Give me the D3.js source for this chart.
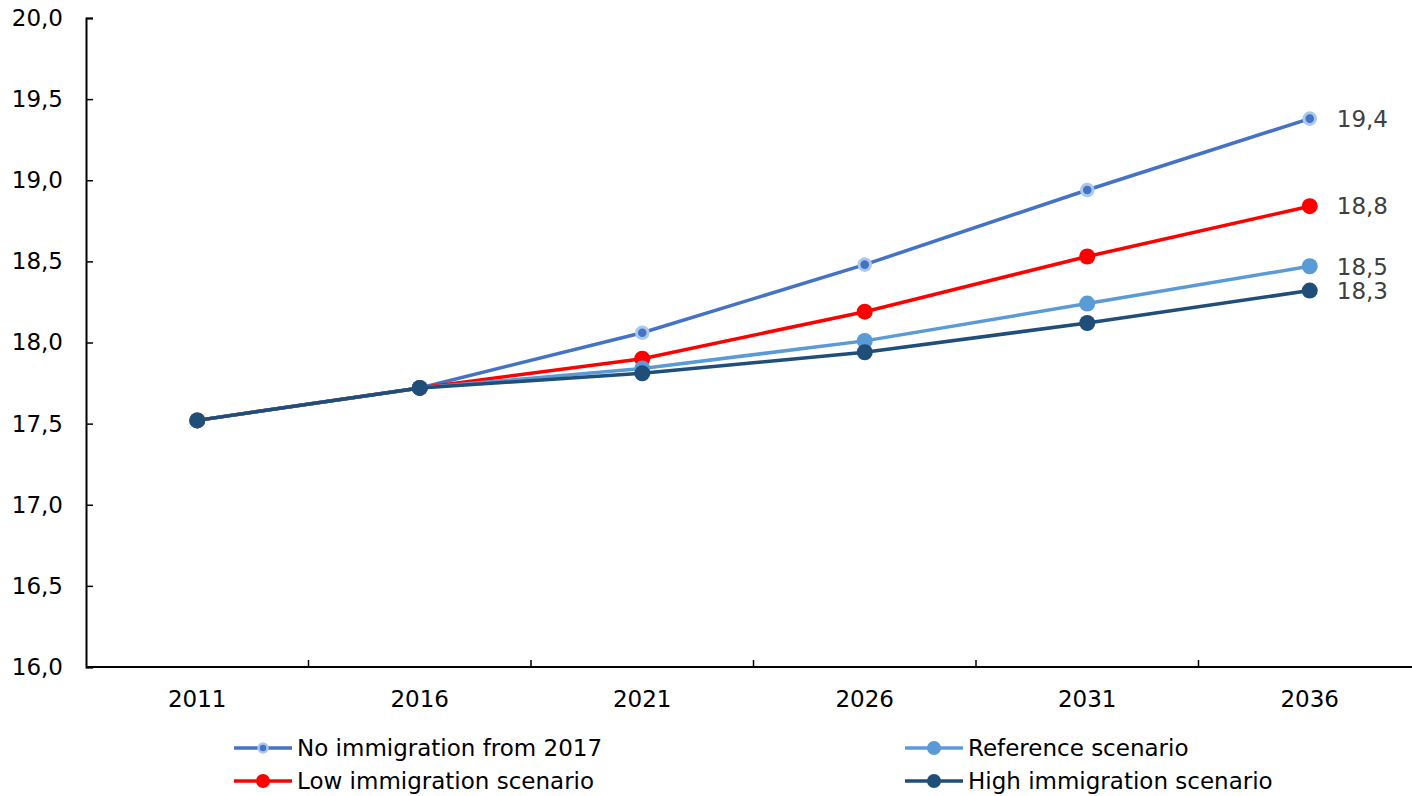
<!DOCTYPE html>
<html>
<head>
<meta charset="utf-8">
<script src="https://cdn.jsdelivr.net/npm/d3@7"></script>
<style>
  html, body { margin: 0; padding: 0; background: #fff; }
  svg { display: block; font-family: "DejaVu Sans", Verdana, sans-serif; }
</style>
</head>
<body>
<svg id="chart" width="1412" height="796"></svg>
<script>
// Projected values per scenario, 2011–2036
const years = ["2011", "2016", "2021", "2026", "2031", "2036"];
const noImmigration = [17.52, 17.72, 18.06, 18.48, 18.94, 19.38];
const lowImmigration = [17.52, 17.72, 17.90, 18.19, 18.53, 18.84];
const referenceScenario = [17.52, 17.72, 17.84, 18.01, 18.24, 18.47];
const highImmigration = [17.52, 17.72, 17.81, 17.94, 18.12, 18.32];
const yTicks = [16, 16.5, 17, 17.5, 18, 18.5, 19, 19.5, 20];

const series = [
  { name: "No immigration from 2017", values: noImmigration, color: "#4472C4", halo: "#A9C8EC", r: 5.8 },
  { name: "Low immigration scenario", values: lowImmigration, color: "#FF0000", r: 8 },
  { name: "Reference scenario", values: referenceScenario, color: "#5B9BD5", r: 8 },
  { name: "High immigration scenario", values: highImmigration, color: "#1F4E79", r: 8 }
];

const fmt = v => d3.format(".1f")(v).replace(".", ",");
const fontSize = 23;

const svg = d3.select("#chart");
const plotLeft = 86, plotRight = 1421, plotTop = 18, plotBottom = 667;

const x = d3.scaleBand().domain(years).range([plotLeft, plotRight]);
const y = d3.scaleLinear().domain([16, 20]).range([plotBottom, plotTop]);

// Y axis
const yAxis = svg.append("g").attr("transform", `translate(${plotLeft},0)`)
  .call(d3.axisLeft(y).tickValues(yTicks).tickFormat(fmt).tickSize(-7).tickPadding(23));
yAxis.select(".domain").attr("stroke", "#000").attr("stroke-width", 2);
yAxis.selectAll(".tick line").attr("stroke", "#000").attr("stroke-width", 1.5);
yAxis.selectAll("text").attr("font-size", fontSize).attr("fill", "#000")
  .attr("font-family", "'DejaVu Sans', Verdana, sans-serif");

// X axis: ticks at category boundaries, labels at centers
const xg = svg.append("g").attr("transform", `translate(0,${plotBottom})`);
xg.append("line").attr("x1", plotLeft).attr("x2", plotRight).attr("stroke", "#000").attr("stroke-width", 2);
xg.selectAll("line.b").data(years.slice(1)).join("line").attr("class", "b")
  .attr("x1", d => x(d)).attr("x2", d => x(d)).attr("y1", 0).attr("y2", -7)
  .attr("stroke", "#000").attr("stroke-width", 1.5);
xg.selectAll("text").data(years).join("text")
  .attr("x", d => x(d) + x.bandwidth() / 2).attr("y", 40)
  .attr("text-anchor", "middle").attr("font-size", fontSize).attr("fill", "#000").text(d => d);

const cx = d => x(d) + x.bandwidth() / 2;
const line = d3.line().x((d, i) => cx(years[i])).y(d => y(d));

// Lines and markers
series.forEach(s => {
  const g = svg.append("g");
  g.append("path").datum(s.values).attr("d", line)
    .attr("fill", "none").attr("stroke", s.color).attr("stroke-width", 3.5);
  g.selectAll("circle").data(s.values).join("circle")
    .attr("cx", (d, i) => cx(years[i])).attr("cy", d => y(d)).attr("r", s.r)
    .attr("fill", s.color)
    .attr("stroke", s.halo || "none").attr("stroke-width", s.halo ? 3 : 0);
  // end-of-line value label
  const last = s.values[s.values.length - 1];
  g.append("text").attr("x", cx(years[years.length - 1]) + 27).attr("y", y(last))
    .attr("dy", "0.36em").attr("font-size", fontSize).attr("fill", "#404040").text(fmt(last));
});

// Legend
const legendPos = [
  { x: 234, y: 748 }, { x: 234, y: 781 }, { x: 905, y: 748 }, { x: 905, y: 781 }
];
series.forEach((s, k) => {
  const p = legendPos[k];
  const g = svg.append("g").attr("transform", `translate(${p.x},${p.y})`);
  g.append("line").attr("x1", 0).attr("x2", 58).attr("stroke", s.color).attr("stroke-width", 3.5);
  g.append("circle").attr("cx", 29).attr("r", s.r === 8 ? 7 : 4.5)
    .attr("fill", s.color).attr("stroke", s.halo || "none").attr("stroke-width", s.halo ? 2.5 : 0);
  g.append("text").attr("x", 63).attr("dy", "0.36em").attr("font-size", fontSize).attr("fill", "#000").text(s.name);
});
</script>
</body>
</html>
